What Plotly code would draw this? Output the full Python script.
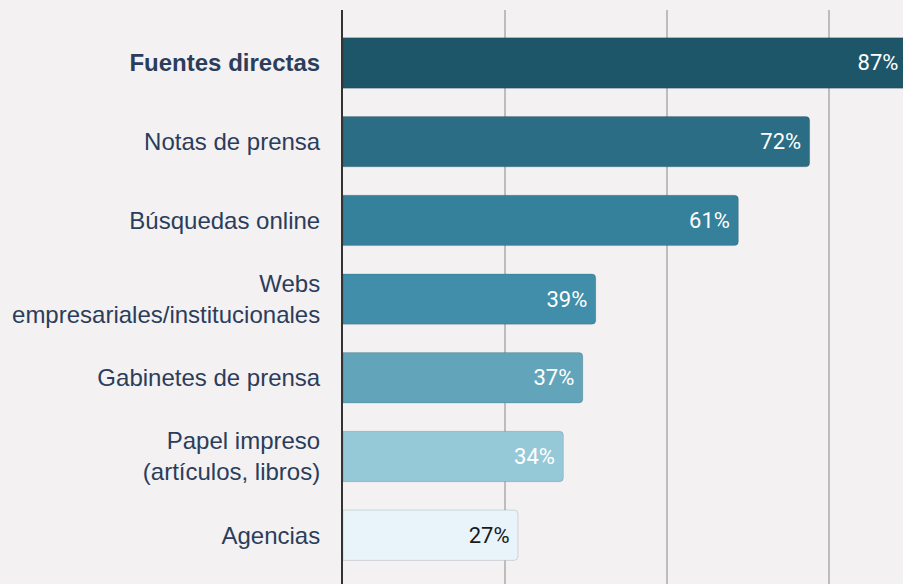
import plotly.graph_objects as go

categories = [
    "<b>Fuentes directas</b>",
    "Notas de prensa",
    "Búsquedas online",
    "Webs<br>empresariales/institucionales",
    "Gabinetes de prensa",
    "Papel impreso<br>(artículos, libros)",
    "Agencias",
]
values = [87, 72, 61, 39, 37, 34, 27]
bar_colors = ["#1e5669", "#2a6d84", "#35809a", "#408ea9", "#62a5ba", "#96c9d8", "#e8f4f9"]
text_colors = ["#ffffff", "#ffffff", "#ffffff", "#ffffff", "#ffffff", "#ffffff", "#1a1a1a"]
labels = [f"{v}%\u2009" for v in values]

fig = go.Figure(
    go.Bar(
        x=values,
        y=categories,
        orientation="h",
        marker=dict(color=bar_colors, line=dict(color="rgba(0,0,0,0.13)", width=1)),
        text=labels,
        textposition="inside",
        insidetextanchor="end",
        textfont=dict(family="Roboto", size=22, color=text_colors),
        constraintext="none",
        hoverinfo="skip",
    )
)

fig.update_layout(
    width=903,
    height=584,
    margin=dict(l=343, r=0, t=10, b=0),
    paper_bgcolor="#f3f1f2",
    plot_bgcolor="#f3f1f2",
    bargap=0.36,
    barcornerradius=4,
    showlegend=False,
    xaxis=dict(
        range=[0, 86.4],
        dtick=25,
        tick0=0,
        showgrid=True,
        gridcolor="#bdbdbd",
        gridwidth=2,
        showticklabels=False,
        zeroline=False,
        fixedrange=True,
    ),
    yaxis=dict(
        range=[6.62, -0.673],
        showline=True,
        linecolor="#333333",
        linewidth=2,
        showgrid=False,
        ticks="",
        ticklabelstandoff=16,
        tickfont=dict(family="Arial, Liberation Sans", size=24, color="#2b3d5b"),
        fixedrange=True,
    ),
)

fig.write_html(
    "out.html",
    config={"displayModeBar": False},
    post_script="document.body.style.margin='0';document.body.style.overflow='hidden';document.body.style.background='#f3f1f2';",
)
